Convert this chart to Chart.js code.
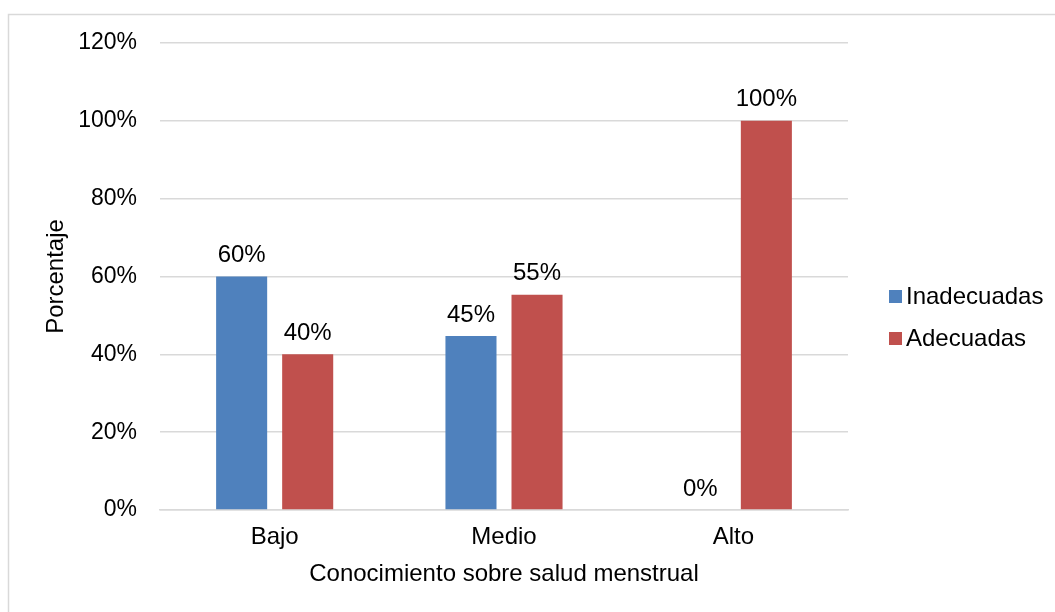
<!DOCTYPE html>
<html>
<head>
<meta charset="utf-8">
<script src="https://cdn.jsdelivr.net/npm/chart.js@4"></script>
<style>
    html, body { margin: 0; padding: 0; background: #fff; }
    #wrap { width: 1055px; height: 612px; position: relative; }
</style>
</head>
<body>
<div id="wrap"><canvas id="chart"></canvas></div>
<script>
const categories = ['Bajo', 'Medio', 'Alto'];
const inadecuadas = [60, 44.7, 0];
const adecuadas = [40, 55.3, 100];
const yTicks = [0, 20, 40, 60, 80, 100, 120];

const FONT = '"Liberation Sans", Arial, sans-serif';
const seriesColors = ['#4F81BD', '#C0504D'];
const seriesNames = ['Inadecuadas', 'Adecuadas'];

// frame + value labels + legend
const extras = {
    id: 'extras',
    beforeDraw(chart) {
        const ctx = chart.ctx;
        ctx.save();
        ctx.strokeStyle = '#d9d9d9';
        ctx.lineWidth = 1.5;
        ctx.strokeRect(8.5, 14.5, 1100, 700);
        ctx.restore();
    },
    afterDatasetsDraw(chart) {
        const ctx = chart.ctx;
        ctx.save();
        ctx.font = '24px ' + FONT;
        ctx.fillStyle = '#000';
        ctx.textAlign = 'center';
        ctx.textBaseline = 'bottom';
        chart.data.datasets.forEach((ds, i) => {
            chart.getDatasetMeta(i).data.forEach((bar, j) => {
                ctx.fillText(Math.round(ds.data[j]) + '%', bar.x, bar.y - 9);
            });
        });

        // legend
        ctx.textAlign = 'left';
        ctx.textBaseline = 'middle';
        const ys = [296, 338];
        seriesNames.forEach((name, i) => {
            ctx.fillStyle = seriesColors[i];
            ctx.fillRect(889, ys[i] - 6, 13, 13);
            ctx.fillStyle = '#000';
            ctx.fillText(name, 906, ys[i] + 1);
        });
        ctx.restore();
    }
};

new Chart(document.getElementById('chart'), {
    type: 'bar',
    data: {
        labels: categories,
        datasets: [
            {label: seriesNames[0], data: inadecuadas, backgroundColor: seriesColors[0]},
            {label: seriesNames[1], data: adecuadas, backgroundColor: seriesColors[1]}
        ]
    },
    options: {
        responsive: true,
        maintainAspectRatio: false,
        animation: false,
        events: [],
        datasets: {
            bar: {categoryPercentage: 0.576, barPercentage: 0.773}
        },
        layout: {padding: {left: 0, right: 207, top: 43, bottom: 0}},
        plugins: {
            legend: {display: false},
            tooltip: {enabled: false}
        },
        scales: {
            x: {
                grid: {display: false},
                border: {display: true, color: '#d9d9d9', width: 1.5},
                ticks: {color: '#000', font: {family: FONT, size: 24}, padding: 5},
                title: {
                    display: true,
                    text: 'Conocimiento sobre salud menstrual',
                    color: '#000',
                    font: {family: FONT, size: 24},
                    padding: {top: 0, bottom: 23}
                },
                afterFit: s => { s.height = 102; }
            },
            y: {
                min: 0,
                max: 120,
                afterBuildTicks: s => { s.ticks = yTicks.map(v => ({value: v})); },
                grid: {color: '#d9d9d9', lineWidth: 1.5, drawTicks: false},
                border: {display: false},
                ticks: {
                    color: '#000',
                    font: {family: FONT, size: 23},
                    padding: 23,
                    callback: v => v + '%'
                },
                title: {
                    display: true,
                    text: 'Porcentaje',
                    color: '#000',
                    font: {family: FONT, size: 24},
                    padding: {top: 42, bottom: 0}
                },
                afterFit: s => { s.width = 160; }
            }
        }
    },
    plugins: [extras]
});
</script>
</body>
</html>
